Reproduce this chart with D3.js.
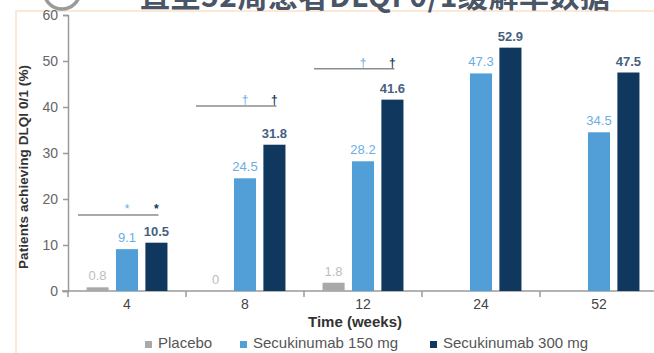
<!DOCTYPE html>
<html lang="en">
<head>
    <meta charset="UTF-8">
    <title>DLQI 0/1</title>
    <style>
        body { margin: 0; background: #fff; }
        svg { display: block; font-family: "Liberation Sans", Arial, sans-serif; }
    </style>
</head>
<body>
    <div id="my_dataviz"></div>
    <script src="https://cdn.jsdelivr.net/npm/d3@7"></script>
    <script>

        // data
        var weeks = ["4", "8", "12", "24", "52"]
        var seriesNames = ["Placebo", "Secukinumab 150 mg", "Secukinumab 300 mg"]
        var placebo = [0.8, 0, 1.8, null, null]
        var secu150 = [9.1, 24.5, 28.2, 47.3, 34.5]
        var secu300 = [10.5, 31.8, 41.6, 52.9, 47.5]
        var yTicks = [0, 10, 20, 30, 40, 50, 60]
        // significance brackets: week, level (%), symbol
        var sigWeeks = ["4", "8", "12"]
        var sigLevels = [16.5, 40.2, 48.3]
        var sigSymbols = ["*", "\u2020", "\u2020"]

        var barColors = ["#a9a9a9", "#529fd8", "#10385f"]
        var labelColors = ["#bdbdbd", "#6cade2", "#46617f"]

        var W = 654, H = 353
        var svg = d3.select("#my_dataviz").append("svg")
            .attr("width", W).attr("height", H)

        // slide decoration (title is cut off at the top, as in the slide)
        svg.append("line").attr("x1", 15).attr("x2", W).attr("y1", 11).attr("y2", 11)
            .attr("stroke", "#fbe8d6").attr("stroke-width", 2)
        svg.append("line").attr("x1", 16).attr("x2", 16).attr("y1", 11).attr("y2", H)
            .attr("stroke", "#fbe8d6").attr("stroke-width", 2)
        svg.append("circle").attr("cx", 62).attr("cy", -9).attr("r", 18)
            .attr("fill", "none").attr("stroke", "#9a9a9a").attr("stroke-width", 3.5)
        svg.append("text").attr("x", 140).attr("y", 7)
            .attr("font-family", "'Noto Sans CJK SC', sans-serif")
            .attr("font-size", 30).attr("font-weight", "bold").attr("fill", "#4a5566")
            .attr("textLength", 470)
            .text("直至52周患者DLQI 0/1缓解率数据")

        var margin = { left: 68, top: 15, bottom: 62 }
        var y = d3.scaleLinear().domain([0, 60]).range([H - margin.bottom, margin.top])
        var x0 = d3.scaleBand().domain(weeks).range([margin.left, margin.left + 590])
        var x1 = d3.scaleBand().domain(seriesNames).range([0, x0.bandwidth()])
            .paddingInner(0.25).paddingOuter(0.63)

        // Y axis
        var yAxis = svg.append("g")
            .attr("transform", "translate(" + margin.left + ",0)")
            .call(d3.axisLeft(y).tickValues(yTicks).tickSize(5).tickPadding(5))
        yAxis.selectAll("path, line").attr("stroke", "#9a9a9a").attr("stroke-width", 1.5)
        yAxis.selectAll("text").attr("font-size", 14).attr("fill", "#666").attr("font-family", null)

        // X axis (ticks between the groups, labels under the 150 mg bar)
        var xAxis = svg.append("g").attr("transform", "translate(0," + y(0) + ")")
        xAxis.append("line").attr("x1", margin.left - 6).attr("x2", W)
            .attr("stroke", "#9a9a9a").attr("stroke-width", 1.5)
        xAxis.selectAll(".sep").data(weeks).enter().append("line")
            .attr("x1", function (d) { return x0(d) }).attr("x2", function (d) { return x0(d) })
            .attr("y1", 0).attr("y2", 6).attr("stroke", "#9a9a9a").attr("stroke-width", 1.5)
        xAxis.selectAll(".lab").data(weeks).enter().append("text")
            .attr("x", function (d) { return x0(d) + x1(seriesNames[1]) + x1.bandwidth() / 2 })
            .attr("y", 18).attr("text-anchor", "middle")
            .attr("font-size", 14).attr("fill", "#444").text(function (d) { return d })

        // bars
        var allSeries = [placebo, secu150, secu300]
        allSeries.forEach(function (vals, s) {
            var rows = weeks.map(function (w, i) { return { week: w, v: vals[i] } })
                .filter(function (d) { return d.v !== null })
            svg.selectAll(".bar" + s).data(rows).enter().append("rect")
                .attr("x", function (d) { return x0(d.week) + x1(seriesNames[s]) })
                .attr("width", x1.bandwidth())
                .attr("y", function (d) { return y(d.v) })
                .attr("height", function (d) { return y(0) - y(d.v) })
                .attr("fill", barColors[s])
            svg.selectAll(".lbl" + s).data(rows).enter().append("text")
                .attr("x", function (d) { return x0(d.week) + x1(seriesNames[s]) + x1.bandwidth() / 2 })
                .attr("y", function (d) { return y(d.v) - 7 })
                .attr("text-anchor", "middle")
                .attr("font-size", 13).attr("font-weight", s == 2 ? "bold" : "normal")
                .attr("fill", labelColors[s])
                .text(function (d) { return d.v })
        })

        // significance brackets
        sigWeeks.forEach(function (w, i) {
            var ly = y(sigLevels[i])
            var c150 = x0(w) + x1(seriesNames[1]) + x1.bandwidth() / 2
            var c300 = x0(w) + x1(seriesNames[2]) + x1.bandwidth() / 2
            svg.append("line").attr("x1", x0(w) + 10).attr("x2", c300 + 2)
                .attr("y1", ly).attr("y2", ly).attr("stroke", "#8c8c8c").attr("stroke-width", 1.5)
            svg.append("text").attr("x", c150).attr("y", ly - 2).attr("text-anchor", "middle")
                .attr("font-size", 12).attr("fill", labelColors[1]).text(sigSymbols[i])
            svg.append("text").attr("x", c300).attr("y", ly - 2).attr("text-anchor", "middle")
                .attr("font-size", 12).attr("font-weight", "bold").attr("fill", barColors[2]).text(sigSymbols[i])
        })

        // axis titles
        svg.append("text")
            .attr("transform", "translate(28," + 167 + ") rotate(-90)")
            .attr("text-anchor", "middle").attr("font-size", 13.5).attr("font-weight", "bold")
            .attr("textLength", 204)
            .attr("fill", "#333").text("Patients achieving DLQI 0/1 (%)")
        svg.append("text").attr("x", 355).attr("y", 327).attr("text-anchor", "middle")
            .attr("font-size", 15).attr("font-weight", "bold").attr("fill", "#333")
            .text("Time (weeks)")

        // legend
        var legendX = [145, 240, 430]
        seriesNames.forEach(function (name, s) {
            svg.append("rect").attr("x", legendX[s]).attr("y", 341).attr("width", 7).attr("height", 7)
                .attr("fill", barColors[s])
            svg.append("text").attr("x", legendX[s] + 13).attr("y", 348)
                .attr("font-size", 15).attr("fill", "#555").text(name)
        })

    </script>
</body>
</html>
